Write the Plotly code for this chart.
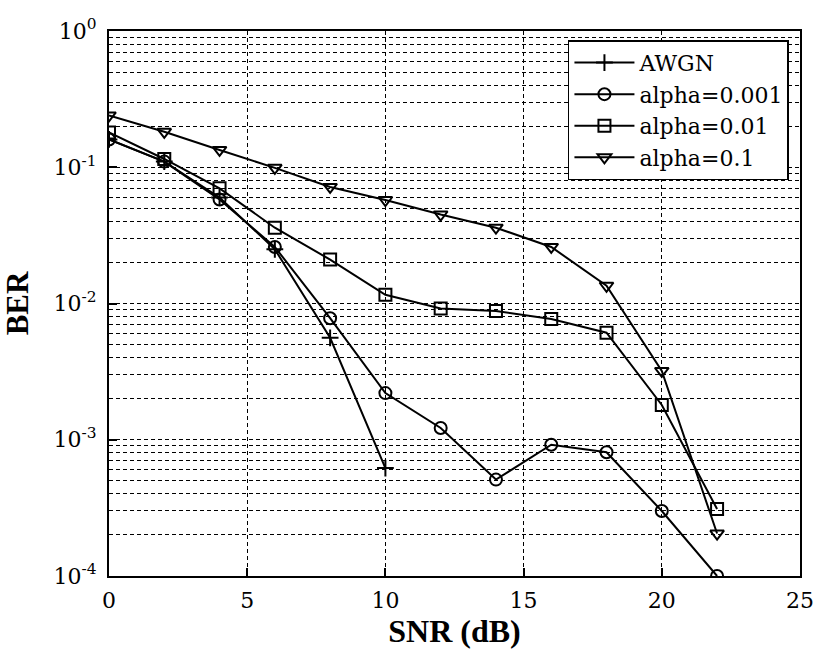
import plotly.graph_objects as go

snr_awgn = [0, 2, 4, 6, 8, 10]
ber_awgn = [0.16, 0.11, 0.06, 0.025, 0.0056, 0.00062]

snr = [0, 2, 4, 6, 8, 10, 12, 14, 16, 18, 20, 22]
ber_a0001 = [0.16, 0.11, 0.058, 0.026, 0.0078, 0.0022, 0.00122, 0.00051, 0.00092, 0.00081, 0.00030, 0.0001]
ber_a001 = [0.18, 0.115, 0.07, 0.036, 0.021, 0.0116, 0.0092, 0.0088, 0.0077, 0.0061, 0.0018, 0.00031]
ber_a01 = [0.24, 0.182, 0.134, 0.099, 0.0717, 0.0575, 0.045, 0.036, 0.026, 0.0135, 0.0032, 0.000205]

names = ["AWGN", "alpha=0.001", "alpha=0.01", "alpha=0.1"]
ytick_vals = [1e-4, 1e-3, 1e-2, 1e-1, 1]
ytick_text = ["10<sup>-4</sup>", "10<sup>-3</sup>", "10<sup>-2</sup>", "10<sup>-1</sup>", "10<sup>0</sup>"]
xtick_vals = [0, 5, 10, 15, 20, 25]

fig = go.Figure()
series = [
    (snr_awgn, ber_awgn, names[0], "cross-thin"),
    (snr, ber_a0001, names[1], "circle-open"),
    (snr, ber_a001, names[2], "square-open"),
    (snr, ber_a01, names[3], "triangle-down-open"),
]
for x, y, n, sym in series:
    fig.add_trace(go.Scatter(
        x=x, y=y, name=n, mode="lines+markers",
        line=dict(color="black", width=2),
        marker=dict(symbol=sym, size=12, color="black",
                    line=dict(color="black", width=2)),
    ))

minor_vals = []
for e in [-4, -3, -2, -1]:
    for m in range(2, 10):
        minor_vals.append(m * 10 ** e)

title_font = "Liberation Serif, Times New Roman, serif"
tick_font = "DejaVu Serif, serif"
fig.update_layout(
    width=815, height=650,
    margin=dict(l=109, r=15, t=31, b=74),
    paper_bgcolor="white", plot_bgcolor="white",
    font=dict(family=tick_font, color="black", size=21),
    showlegend=True,
    legend=dict(x=0.984, y=0.983, xanchor="right", yanchor="top",
                bordercolor="black", borderwidth=1.5, bgcolor="white",
                font=dict(family=tick_font, size=22, color="black"),
                tracegroupgap=0, itemwidth=60),
    xaxis=dict(
        range=[0, 25], tickvals=xtick_vals, ticks="inside", ticklen=8,
        tickcolor="black", tickwidth=1.5, automargin=False,
        showline=True, linecolor="black", linewidth=2, mirror=True,
        showgrid=True, gridcolor="black", gridwidth=1, griddash="4px,3px",
        zeroline=False, ticklabelstandoff=4,
        tickfont=dict(family=tick_font, size=22, color="black"),
        title=dict(text="<b>SNR (dB)</b>", font=dict(family=title_font, size=32, color="black"), standoff=4),
    ),
    yaxis=dict(
        type="log", range=[-4, 0], tickvals=ytick_vals, ticktext=ytick_text,
        ticks="inside", ticklen=8, tickcolor="black", tickwidth=1.5, automargin=False,
        showline=True, linecolor="black", linewidth=2, mirror=True,
        showgrid=True, gridcolor="black", gridwidth=1, griddash="4px,3px",
        minor=dict(tickvals=minor_vals, showgrid=True, gridcolor="black",
                   gridwidth=1, griddash="4px,3px", ticks=""),
        zeroline=False, ticklabelstandoff=6,
        tickfont=dict(family=tick_font, size=22, color="black"),
        title=dict(text="<b>BER</b>", font=dict(family=title_font, size=31, color="black"), standoff=22),
    ),
)

fig.write_html("out.html")
